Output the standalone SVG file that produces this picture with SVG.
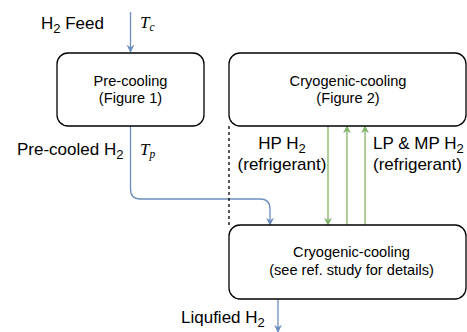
<svg xmlns="http://www.w3.org/2000/svg" width="467" height="332" viewBox="0 0 467 332">
<defs>
<style>
.box{fill:#fff;stroke:#000;stroke-width:1.3}
.t{font-family:"Liberation Sans",Arial,sans-serif;fill:#000}
.s13{font-size:14.6px}
.s16{font-size:17px}
.m{font-family:"Liberation Serif","Times New Roman",serif;font-style:italic;font-size:17px;fill:#000}
.blue{fill:none;stroke:#6c8ebf;stroke-width:1.3}
.green{fill:none;stroke:#82b366;stroke-width:1.3}
</style>
<marker id="ab" viewBox="0 0 10 10" refX="9" refY="5" markerWidth="8" markerHeight="8" markerUnits="userSpaceOnUse" orient="auto"><path d="M0,0 L10,5 L0,10 L3,5 Z" fill="#6c8ebf"/></marker>
<marker id="ag" viewBox="0 0 10 10" refX="9" refY="5" markerWidth="8" markerHeight="8" markerUnits="userSpaceOnUse" orient="auto"><path d="M0,0 L10,5 L0,10 L3,5 Z" fill="#82b366"/></marker>
</defs>
<rect width="467" height="332" fill="#fff"/>
<g id="connectors">
<path class="blue" d="M130.5,12 V52" marker-end="url(#ab)"/>
<path class="blue" d="M130.5,126 V189 Q130.5,199 140.5,199 H260 Q270,199 270,209 V225" marker-end="url(#ab)"/>
<path class="blue" d="M278,299 V332" marker-end="url(#ab)"/>
<path class="green" d="M328,126 V225" marker-end="url(#ag)"/>
<path class="green" d="M347,225 V126" marker-end="url(#ag)"/>
<path class="green" d="M365,225 V126" marker-end="url(#ag)"/>
<path d="M229,126 V225" stroke="#000" stroke-width="1.3" stroke-dasharray="3,3" fill="none"/>
</g>
<g id="precooling">
<rect class="box" x="57" y="53" width="147" height="73" rx="11"/>
<text class="t s13" x="130.5" y="86" text-anchor="middle">Pre-cooling</text>
<text class="t s13" x="130.5" y="103" text-anchor="middle">(Figure 1)</text>
</g>
<g id="cryo1">
<rect class="box" x="229" y="53" width="237" height="73" rx="11"/>
<text class="t s13" x="348" y="86" text-anchor="middle">Cryogenic-cooling</text>
<text class="t s13" x="348" y="103" text-anchor="middle">(Figure 2)</text>
</g>
<g id="cryo2">
<rect class="box" x="229" y="225" width="237" height="74" rx="11"/>
<text class="t s13" x="351.5" y="257" text-anchor="middle">Cryogenic-cooling</text>
<text class="t s13" x="351.5" y="275" text-anchor="middle">(see ref. study for details)</text>
</g>
<g id="labels">
<text class="t s16" x="41" y="29">H<tspan font-size="13" dy="4">2</tspan><tspan dy="-4"> Feed</tspan></text>
<text class="m" x="140" y="28">T<tspan font-size="11.5" dy="3">c</tspan></text>
<text class="t s16" x="17" y="155">Pre-cooled H<tspan font-size="13" dy="4">2</tspan></text>
<text class="m" x="140" y="155">T<tspan font-size="11.5" dy="3">p</tspan></text>
<text class="t s16" x="282" y="149" text-anchor="middle">HP H<tspan font-size="13" dy="4">2</tspan></text>
<text class="t s16" x="282" y="170" text-anchor="middle">(refrigerant)</text>
<text class="t s16" x="373" y="149">LP &amp; MP H<tspan font-size="13" dy="4">2</tspan></text>
<text class="t s16" x="373" y="170">(refrigerant)</text>
<text class="t s16" x="181" y="323">Liqufied H<tspan font-size="13" dy="4">2</tspan></text>
</g>
</svg>
